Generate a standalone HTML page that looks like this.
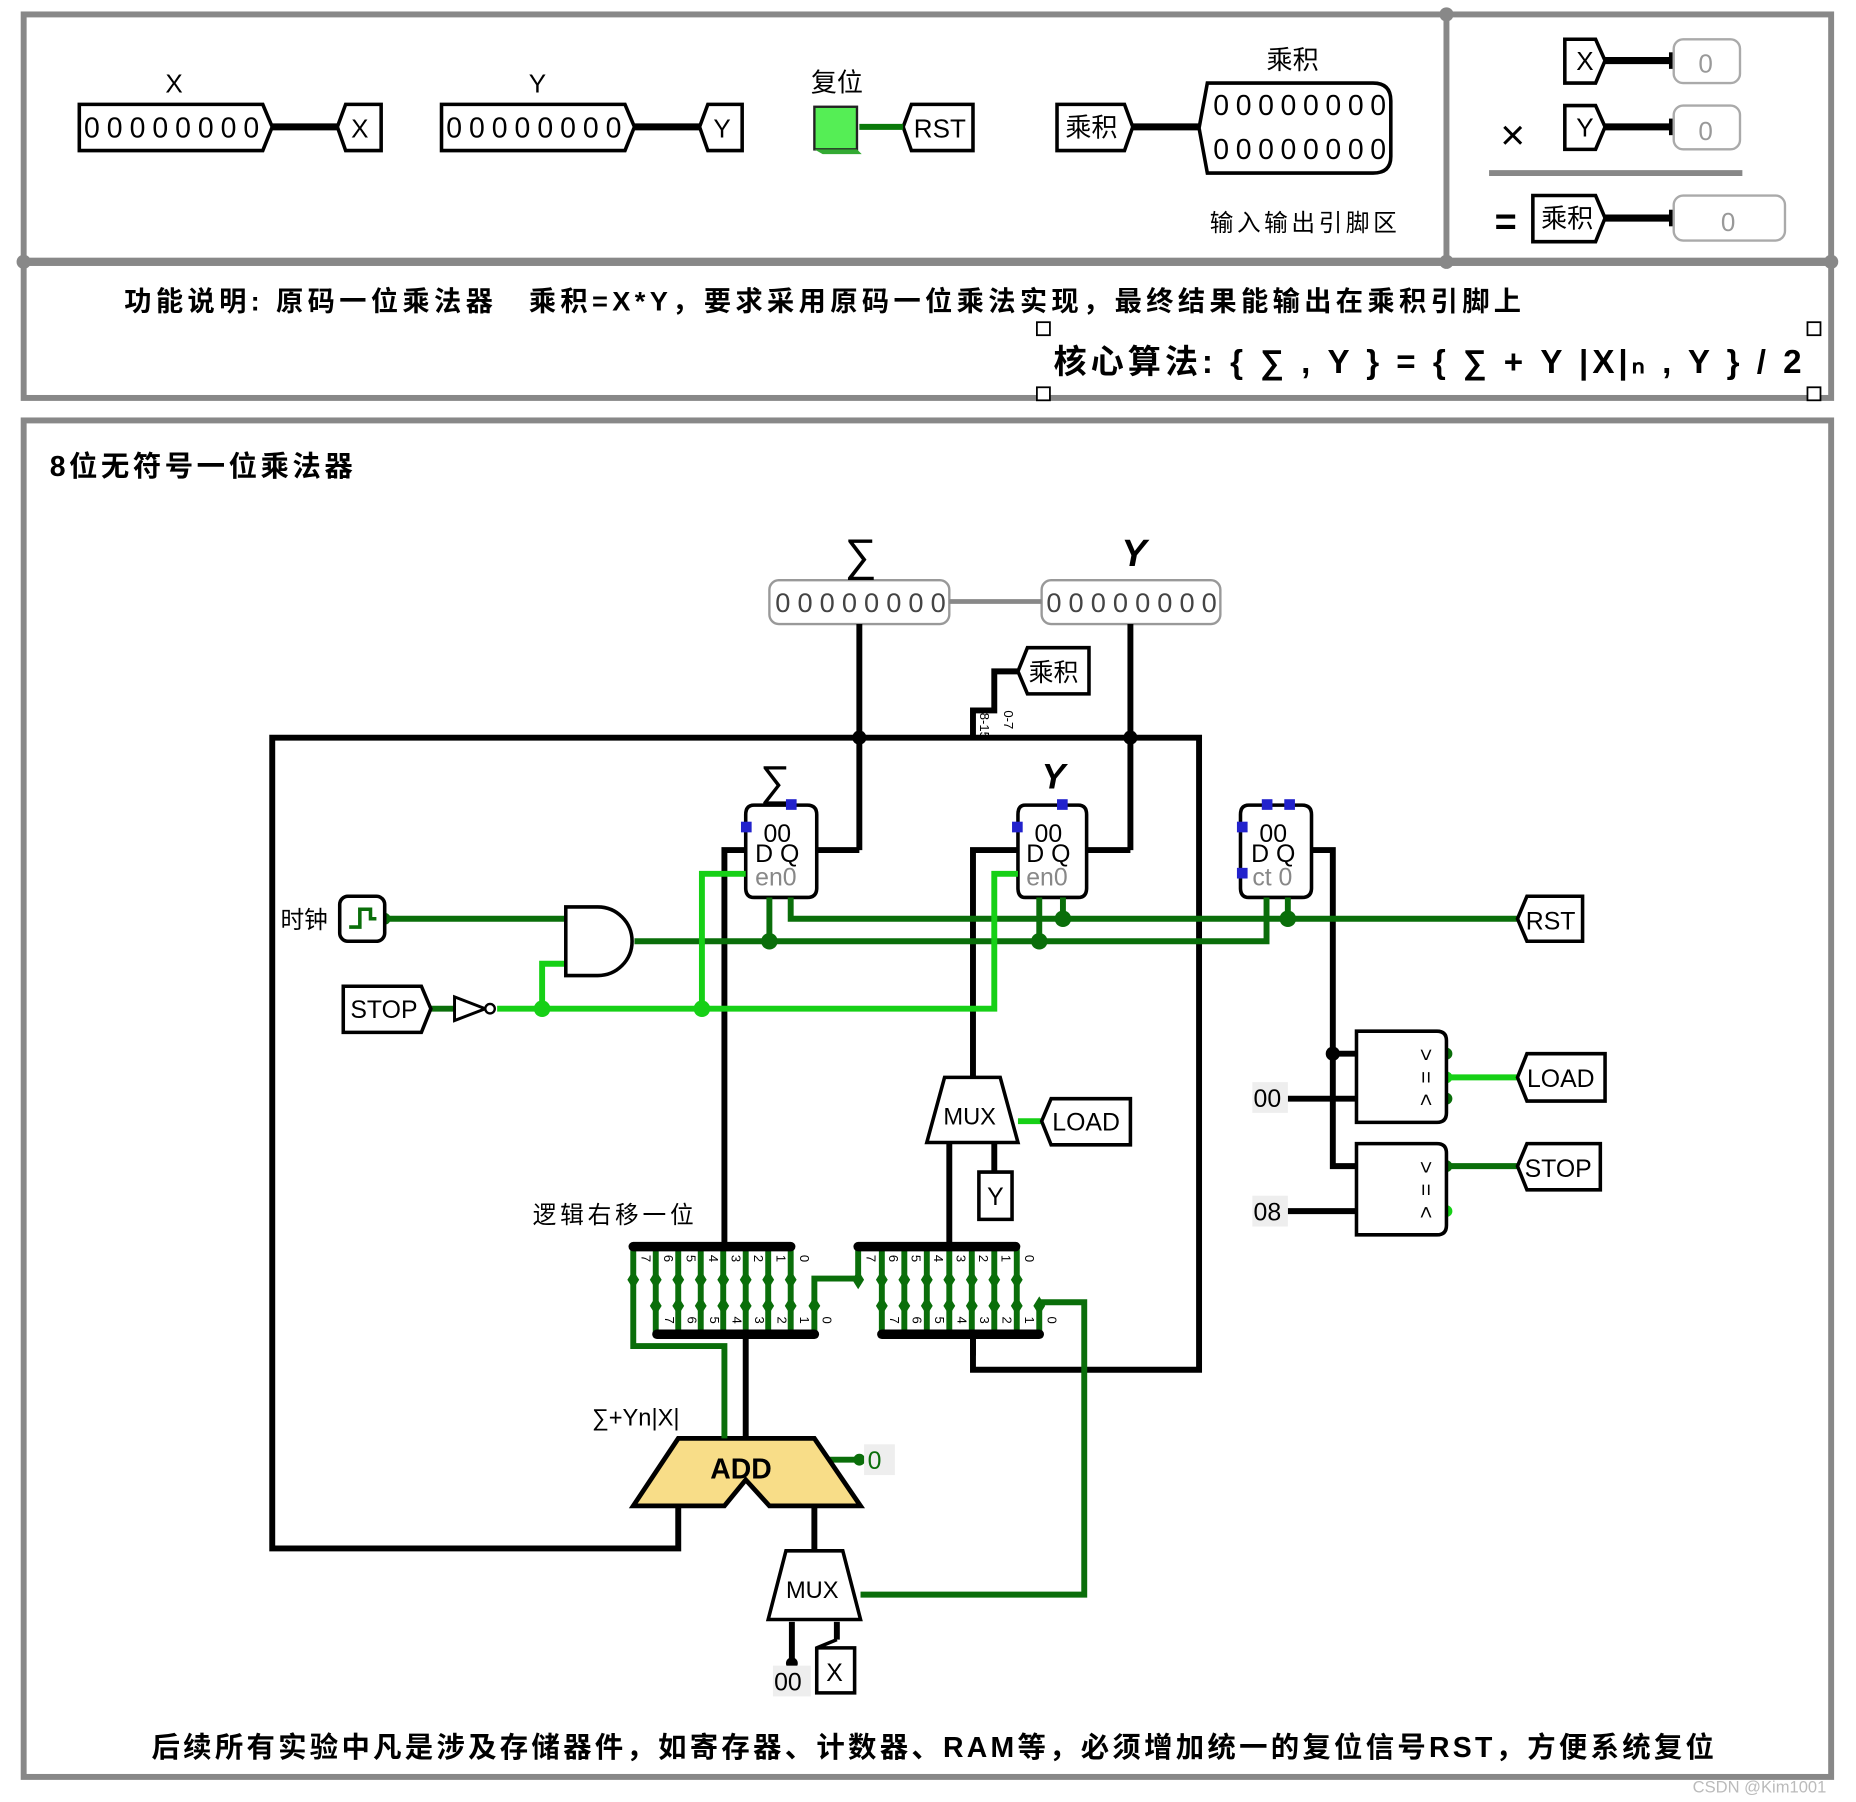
<!DOCTYPE html>
<html><head><meta charset="utf-8"><style>
html,body{margin:0;padding:0;background:#fff}
svg{display:block}
text{font-family:"Liberation Sans","Noto Sans CJK SC",sans-serif}
</style></head><body>
<svg width="1856" height="1802" viewBox="0 0 1568 1522" xmlns="http://www.w3.org/2000/svg">
<rect width="1568" height="1522" fill="#fff"/>
<g fill="none" stroke="#888" stroke-width="5">
<rect x="20" y="12" width="1527" height="208"/>
<line x1="1222" y1="12" x2="1222" y2="220"/>
<rect x="20" y="222" width="1527" height="114"/>
<rect x="20" y="355" width="1527" height="1146"/>
</g>
<g fill="#888"><circle cx="1222" cy="12" r="6"/><circle cx="20" cy="221" r="6"/><circle cx="1222" cy="221" r="6"/><circle cx="1547" cy="221" r="6"/></g>
<g fill="#fff" stroke="#000" stroke-width="1.5"><rect x="876" y="272" width="11" height="11"/><rect x="1527" y="272" width="11" height="11"/><rect x="876" y="327" width="11" height="11"/><rect x="1527" y="327" width="11" height="11"/></g>

<g stroke="#000" stroke-width="3" fill="#fff">
<path d="M67 88 H222 L230 107 L222 127 H67 Z"/>
<path d="M373 88 H528 L536 107 L528 127 H373 Z"/>
<path d="M292 88 H322 V127 H292 L285 107 Z"/>
<path d="M598 88 H627 V127 H598 L591 107 Z"/>
<path d="M770 88 H822 V127 H770 L763 107 Z"/>
<path d="M893 88 H950 L957 107 L950 127 H893 Z"/>
<path d="M1020 70 H1160 Q1175 70 1175 85 V132 Q1175 146 1160 146 H1020 L1013 108 Z"/>
</g>
<g stroke="#000" stroke-width="6"><line x1="230" y1="107" x2="285" y2="107"/><line x1="536" y1="107" x2="591" y2="107"/><line x1="957" y1="107" x2="1013" y2="107"/></g>
<line x1="726" y1="107" x2="763" y2="107" stroke="#0a7a0a" stroke-width="5"/>
<rect x="688" y="90" width="36" height="36" fill="#55ee55" stroke="#222" stroke-width="2"/>
<path d="M688 126 L695 130 H728 L724 126Z" fill="#33aa33"/>
<g font-size="24" text-anchor="middle">
<text x="145" y="116" textLength="148" lengthAdjust="spacing">00000000</text><text x="451" y="116" textLength="148" lengthAdjust="spacing">00000000</text>
<text x="1098" y="97" textLength="146" lengthAdjust="spacing">00000000</text><text x="1098" y="134" textLength="146" lengthAdjust="spacing">00000000</text>
</g>
<g font-size="22" text-anchor="middle">
<text x="147" y="78">X</text><text x="454" y="78">Y</text><text x="707" y="77">复位</text><text x="1092" y="58">乘积</text>
<text x="304" y="116">X</text><text x="610" y="116">Y</text><text x="794" y="116">RST</text><text x="922" y="115">乘积</text>
<text x="1101" y="195" font-size="20" textLength="158" lengthAdjust="spacing">输入输出引脚区</text>
</g>
<g stroke="#000" stroke-width="3" fill="#fff">
<path d="M1322 33 H1348 L1356 51 L1348 70 H1322 Z"/>
<path d="M1322 89 H1348 L1356 107 L1348 126 H1322 Z"/>
<path d="M1295 165 H1348 L1356 184 L1348 204 H1295 Z"/>
</g>
<g stroke="#000" stroke-width="6"><line x1="1356" y1="51" x2="1414" y2="51"/><line x1="1356" y1="107" x2="1414" y2="107"/><line x1="1356" y1="184" x2="1414" y2="184"/></g>
<g fill="#000"><rect x="1410" y="44" width="8" height="14"/><rect x="1410" y="100" width="8" height="14"/><rect x="1410" y="177" width="8" height="14"/></g>
<g fill="#fff" stroke="#aaa" stroke-width="2"><rect x="1414" y="33" width="56" height="37" rx="8"/><rect x="1414" y="89" width="56" height="37" rx="8"/><rect x="1414" y="165" width="94" height="38" rx="8"/></g>
<line x1="1258" y1="146" x2="1472" y2="146" stroke="#888" stroke-width="5"/>
<g font-size="22" text-anchor="middle"><text x="1339" y="59">X</text><text x="1339" y="115">Y</text><text x="1324" y="192">乘积</text>
<text x="1278" y="126" font-size="36">×</text><text x="1272" y="198" font-size="32" font-weight="bold">=</text>
<g fill="#999"><text x="1441" y="61">0</text><text x="1441" y="118">0</text><text x="1460" y="195">0</text></g></g>

<text x="105" y="262" font-size="23" font-weight="bold" textLength="1180" lengthAdjust="spacing">功能说明: 原码一位乘法器　乘积=X*Y，要求采用原码一位乘法实现，最终结果能输出在乘积引脚上</text>
<text x="890" y="315" font-size="28" font-weight="bold" textLength="632" lengthAdjust="spacing">核心算法: { ∑ , Y } = { ∑ + Y  |X|ₙ , Y } / 2</text>
<text x="42" y="402" font-size="24" font-weight="bold" textLength="256" lengthAdjust="spacing">8位无符号一位乘法器</text>
<text x="128" y="1484" font-size="24" font-weight="bold" textLength="1320" lengthAdjust="spacing">后续所有实验中凡是涉及存储器件，如寄存器、计数器、RAM等，必须增加统一的复位信号RST，方便系统复位</text>
<text x="1430" y="1514" font-size="14" fill="#bbb">CSDN @Kim1001</text>

<g fill="#fff" stroke="#999" stroke-width="2"><rect x="650" y="490" width="152" height="37" rx="8"/><rect x="880" y="490" width="151" height="37" rx="8"/></g>
<line x1="802" y1="508" x2="880" y2="508" stroke="#888" stroke-width="4"/>
<g font-size="23" text-anchor="middle" fill="#444"><text x="727" y="517" textLength="144" lengthAdjust="spacing">00000000</text><text x="956" y="517" textLength="144" lengthAdjust="spacing">00000000</text></g>
<text x="727" y="482" font-size="38" text-anchor="middle" font-family="Liberation Serif">∑</text>
<text x="958" y="478" font-size="32" text-anchor="middle" font-style="italic" font-weight="bold" font-family="Liberation Serif">Y</text>

<g stroke="#000" stroke-width="5" fill="none">
<line x1="726" y1="527" x2="726" y2="718"/><line x1="955" y1="527" x2="955" y2="718"/>
<path d="M573 1272 V1308 H230 V623 H1013 V1157 H822 V1127"/>
<line x1="690" y1="718" x2="726" y2="718"/><line x1="918" y1="718" x2="955" y2="718"/>
<path d="M630 718 H612 V1053"/><path d="M860 718 H822 V910"/>
<path d="M1108 718 H1126 V985 H1146"/><path d="M1126 890 H1146"/>
<line x1="802" y1="965" x2="802" y2="1053"/><line x1="840" y1="965" x2="840" y2="990"/>
<line x1="630" y1="1127" x2="630" y2="1215"/>
<line x1="688" y1="1272" x2="688" y2="1310"/>
<line x1="669" y1="1370" x2="669" y2="1405"/><line x1="707" y1="1370" x2="707" y2="1385"/>
<path d="M822 623 V600 H840 V567 H860"/>
<line x1="1088" y1="928" x2="1146" y2="928"/><line x1="1088" y1="1023" x2="1146" y2="1023"/>
</g>
<g fill="#000"><circle cx="726" cy="623" r="6"/><circle cx="955" cy="623" r="6"/><circle cx="1126" cy="890" r="6"/><circle cx="669" cy="1405" r="5"/></g>
<g font-size="11" fill="#000"><text x="824" y="606" transform="rotate(90 828 606)">8-15</text><text x="844" y="604" transform="rotate(90 848 604)">0-7</text></g>

<g fill="#fff" stroke="#000" stroke-width="3">
<path d="M637 680 H682 Q690 680 690 688 V750 Q690 758 682 758 H637 Q630 758 630 750 V688 Q630 680 637 680Z"/>
<path d="M866 680 H911 Q918 680 918 688 V750 Q918 758 911 758 H866 Q860 758 860 750 V688 Q860 680 866 680Z"/>
<path d="M1055 680 H1100 Q1108 680 1108 688 V750 Q1108 758 1100 758 H1055 Q1048 758 1048 750 V688 Q1048 680 1055 680Z"/>
</g>
<g font-size="21" fill="#000"><text x="645" y="711">00</text><text x="874" y="711">00</text><text x="1064" y="711">00</text>
<text x="638" y="728">D Q</text><text x="867" y="728">D Q</text><text x="1057" y="728">D Q</text>
<g fill="#888"><text x="638" y="748">en0</text><text x="867" y="748">en0</text><text x="1058" y="748">ct 0</text></g></g>
<text x="655" y="672" font-size="36" text-anchor="middle" font-family="Liberation Serif">∑</text>
<text x="890" y="666" font-size="30" text-anchor="middle" font-style="italic" font-weight="bold" font-family="Liberation Serif">Y</text>
<g fill="#22c"><rect x="664" y="675" width="9" height="9"/><rect x="893" y="675" width="9" height="9"/><rect x="1066" y="675" width="9" height="9"/><rect x="1085" y="675" width="9" height="9"/><rect x="626" y="694" width="9" height="9"/><rect x="855" y="694" width="9" height="9"/><rect x="1045" y="694" width="9" height="9"/><rect x="1045" y="733" width="9" height="9"/></g>

<g stroke="#0a6e0a" stroke-width="5" fill="none">
<path d="M325 776 H478"/><path d="M536 795 H1070 V758"/>
<path d="M650 758 V795"/><path d="M878 758 V795"/>
<path d="M668 758 V776 H1282"/><path d="M898 758 V776"/><path d="M1088 758 V776"/>
<path d="M1222 985 H1282"/>
<path d="M364 852 H384"/>
<path d="M726 1233 H688"/>
<path d="M727 1347 H916 V1100 H878"/>
</g>
<g stroke="#16d016" stroke-width="5" fill="none">
<path d="M420 852 H840 V738 H860"/><path d="M593 852 V738 H630"/>
<path d="M458 852 V814 H478"/>
<path d="M1222 910 H1282"/><path d="M860 947 H880"/>
</g>
<g fill="#0a6e0a"><circle cx="650" cy="795" r="7"/><circle cx="878" cy="795" r="7"/><circle cx="898" cy="776" r="7"/><circle cx="1088" cy="776" r="7"/><circle cx="325" cy="776" r="5"/><circle cx="1222" cy="890" r="5"/><circle cx="1222" cy="928" r="5"/><circle cx="1222" cy="985" r="5"/><circle cx="726" cy="1233" r="5"/></g>
<g fill="#16d016"><circle cx="458" cy="852" r="7"/><circle cx="593" cy="852" r="7"/><circle cx="1222" cy="910" r="5"/><circle cx="1222" cy="1023" r="5"/></g>

<rect x="287" y="757" width="38" height="38" rx="7" fill="#fff" stroke="#000" stroke-width="3"/>
<path d="M295 783 H304 V768 H313 V776 H318" stroke="#0a6e0a" stroke-width="3" fill="none"/>
<text x="237" y="784" font-size="20">时钟</text>
<path d="M478 766 H505 A29 29 0 0 1 505 824 H478 Z" fill="#fff" stroke="#000" stroke-width="3"/>
<path d="M290 833 H356 L364 852 L356 872 H290 Z" fill="#fff" stroke="#000" stroke-width="3"/>
<text x="296" y="860" font-size="21">STOP</text>
<path d="M384 842 L410 852 L384 862 Z" fill="#fff" stroke="#000" stroke-width="2.5"/><circle cx="414" cy="852" r="4" fill="#fff" stroke="#000" stroke-width="2"/>

<g fill="#fff" stroke="#000" stroke-width="3">
<path d="M1290 757 H1337 V795 H1290 L1282 776Z"/>
<path d="M1290 890 H1356 V930 H1290 L1282 910Z"/>
<path d="M1290 966 H1352 V1005 H1290 L1282 985Z"/>
<path d="M888 928 H955 V967 H888 L880 947Z"/>
<path d="M868 547 H920 V586 H868 L860 567Z"/>
<path d="M827 990 H855 V1030 H827Z"/>
<path d="M690 1392 H722 V1430 H690 V1392 L707 1385 Z"/>
<path d="M1146 871 H1214 Q1222 871 1222 879 V940 Q1222 948 1214 948 H1146Z"/>
<path d="M1146 966 H1214 Q1222 966 1222 974 V1035 Q1222 1043 1214 1043 H1146Z"/>
</g>
<g font-size="21"><text x="1289" y="785">RST</text><text x="1290" y="918">LOAD</text><text x="1288" y="994">STOP</text><text x="889" y="955">LOAD</text><text x="869" y="575">乘积</text><text x="834" y="1018">Y</text><text x="698" y="1420">X</text></g>
<g font-size="18" text-anchor="middle">
<text x="1205" y="897" transform="rotate(90 1205 891)">&gt;</text><text x="1205" y="916" transform="rotate(90 1205 910)">=</text><text x="1205" y="935" transform="rotate(90 1205 929)">&lt;</text>
<text x="1205" y="992" transform="rotate(90 1205 986)">&gt;</text><text x="1205" y="1011" transform="rotate(90 1205 1005)">=</text><text x="1205" y="1030" transform="rotate(90 1205 1024)">&lt;</text>
</g>
<rect x="1058" y="914" width="30" height="26" fill="#eee"/><text x="1059" y="935" font-size="21">00</text>
<rect x="1058" y="1010" width="30" height="26" fill="#eee"/><text x="1059" y="1031" font-size="21">08</text>
<rect x="653" y="1407" width="32" height="26" fill="#eee"/><text x="654" y="1428" font-size="21">00</text>
<rect x="730" y="1220" width="26" height="26" fill="#eee"/><text x="733" y="1241" font-size="21" fill="#0a6e0a">0</text>
<text x="450" y="1033" font-size="20" textLength="136" lengthAdjust="spacing">逻辑右移一位</text>
<text x="500" y="1204" font-size="20">∑+Yn|X|</text>

<path d="M798 910 H845 L860 965 H783 Z" fill="#fff" stroke="#000" stroke-width="3"/>
<text x="797" y="950" font-size="20">MUX</text>
<path d="M664 1310 H712 L727 1368 H649 Z" fill="#fff" stroke="#000" stroke-width="3"/>
<text x="664" y="1350" font-size="20">MUX</text>
<path d="M573 1215 H688 L727 1272 H650 L630 1250 L612 1272 H535 Z" fill="#f8dd88" stroke="#000" stroke-width="4"/>
<text x="600" y="1249" font-size="24" font-weight="bold">ADD</text>

<g stroke="#0a6e0a" stroke-width="5" fill="none">
<path d="M535 1053 V1137 H612 V1215"/>
<path d="M554 1053 V1127"/><path d="M573 1053 V1127"/><path d="M592 1053 V1127"/><path d="M611 1053 V1127"/><path d="M630 1053 V1127"/><path d="M649 1053 V1127"/><path d="M668 1053 V1127"/>
<path d="M688 1127 V1080 H725 V1053"/>
<path d="M745 1053 V1127"/><path d="M764 1053 V1127"/><path d="M783 1053 V1127"/><path d="M802 1053 V1127"/><path d="M821 1053 V1127"/><path d="M840 1053 V1127"/><path d="M859 1053 V1127"/>
<path d="M878 1100 V1127"/>
</g>
<g fill="#0a6e0a">
<path d="M535 1073 l5 8 l-5 8 l-5 -8Z"/>
<path d="M554 1073 l5 8 l-5 8 l-5 -8Z M573 1073 l5 8 l-5 8 l-5 -8Z M592 1073 l5 8 l-5 8 l-5 -8Z M611 1073 l5 8 l-5 8 l-5 -8Z M630 1073 l5 8 l-5 8 l-5 -8Z M649 1073 l5 8 l-5 8 l-5 -8Z M668 1073 l5 8 l-5 8 l-5 -8Z"/>
<path d="M554 1095 l5 8 l-5 8 l-5 -8Z M573 1095 l5 8 l-5 8 l-5 -8Z M592 1095 l5 8 l-5 8 l-5 -8Z M611 1095 l5 8 l-5 8 l-5 -8Z M630 1095 l5 8 l-5 8 l-5 -8Z M649 1095 l5 8 l-5 8 l-5 -8Z M668 1095 l5 8 l-5 8 l-5 -8Z M688 1095 l5 8 l-5 8 l-5 -8Z"/>
<path d="M725 1073 l5 8 l-5 8 l-5 -8Z M745 1073 l5 8 l-5 8 l-5 -8Z M764 1073 l5 8 l-5 8 l-5 -8Z M783 1073 l5 8 l-5 8 l-5 -8Z M802 1073 l5 8 l-5 8 l-5 -8Z M821 1073 l5 8 l-5 8 l-5 -8Z M840 1073 l5 8 l-5 8 l-5 -8Z M859 1073 l5 8 l-5 8 l-5 -8Z"/>
<path d="M745 1095 l5 8 l-5 8 l-5 -8Z M764 1095 l5 8 l-5 8 l-5 -8Z M783 1095 l5 8 l-5 8 l-5 -8Z M802 1095 l5 8 l-5 8 l-5 -8Z M821 1095 l5 8 l-5 8 l-5 -8Z M840 1095 l5 8 l-5 8 l-5 -8Z M859 1095 l5 8 l-5 8 l-5 -8Z M878 1095 l5 8 l-5 8 l-5 -8Z"/>
</g>
<g stroke="#000" stroke-width="8" stroke-linecap="round"><line x1="535" y1="1053" x2="668" y2="1053"/><line x1="555" y1="1127" x2="688" y2="1127"/><line x1="725" y1="1053" x2="858" y2="1053"/><line x1="745" y1="1127" x2="878" y2="1127"/></g>
<g font-size="11" fill="#000">
<text x="542" y="1060" transform="rotate(90 542 1060)">7</text><text x="561" y="1060" transform="rotate(90 561 1060)">6</text><text x="580" y="1060" transform="rotate(90 580 1060)">5</text><text x="599" y="1060" transform="rotate(90 599 1060)">4</text><text x="618" y="1060" transform="rotate(90 618 1060)">3</text><text x="637" y="1060" transform="rotate(90 637 1060)">2</text><text x="656" y="1060" transform="rotate(90 656 1060)">1</text><text x="676" y="1060" transform="rotate(90 676 1060)">0</text>
<text x="562" y="1112" transform="rotate(90 562 1112)">7</text><text x="581" y="1112" transform="rotate(90 581 1112)">6</text><text x="600" y="1112" transform="rotate(90 600 1112)">5</text><text x="619" y="1112" transform="rotate(90 619 1112)">4</text><text x="638" y="1112" transform="rotate(90 638 1112)">3</text><text x="657" y="1112" transform="rotate(90 657 1112)">2</text><text x="676" y="1112" transform="rotate(90 676 1112)">1</text><text x="695" y="1112" transform="rotate(90 695 1112)">0</text>
<text x="732" y="1060" transform="rotate(90 732 1060)">7</text><text x="751" y="1060" transform="rotate(90 751 1060)">6</text><text x="770" y="1060" transform="rotate(90 770 1060)">5</text><text x="789" y="1060" transform="rotate(90 789 1060)">4</text><text x="808" y="1060" transform="rotate(90 808 1060)">3</text><text x="827" y="1060" transform="rotate(90 827 1060)">2</text><text x="846" y="1060" transform="rotate(90 846 1060)">1</text><text x="866" y="1060" transform="rotate(90 866 1060)">0</text>
<text x="752" y="1112" transform="rotate(90 752 1112)">7</text><text x="771" y="1112" transform="rotate(90 771 1112)">6</text><text x="790" y="1112" transform="rotate(90 790 1112)">5</text><text x="809" y="1112" transform="rotate(90 809 1112)">4</text><text x="828" y="1112" transform="rotate(90 828 1112)">3</text><text x="847" y="1112" transform="rotate(90 847 1112)">2</text><text x="866" y="1112" transform="rotate(90 866 1112)">1</text><text x="885" y="1112" transform="rotate(90 885 1112)">0</text>
</g>
<g stroke="#000" stroke-width="5"><line x1="822" y1="1127" x2="822" y2="1145"/></g>
</svg>
</body></html>
